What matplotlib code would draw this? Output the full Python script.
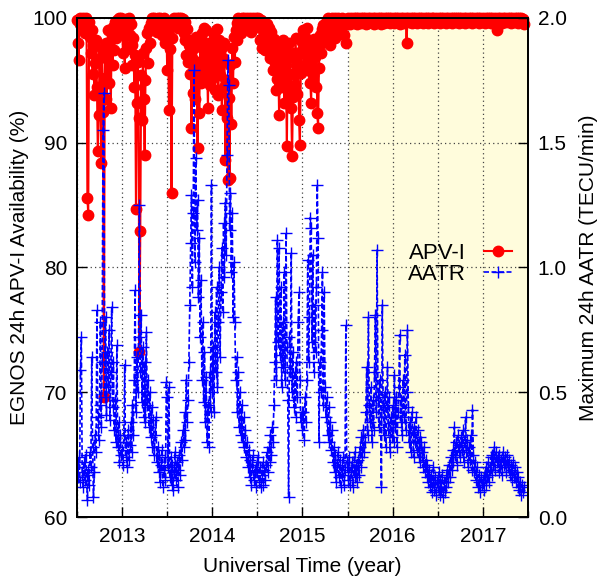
import numpy as np
import matplotlib.pyplot as plt
from matplotlib.ticker import MultipleLocator

plt.rcParams['font.family'] = ['Liberation Sans', 'DejaVu Sans']

# samples every ~3.5 days, 26 per quarter, starting 2012.5
start_year = 2012.5
per_year = 104

# Maximum 24h AATR (TECU/min), one row per quarter
aatr_2012 = [0.20, 0.16, 0.24, 0.14, 0.59, 0.72, 0.18, 0.12, 0.22, 0.15, 0.25, 0.17, 0.07, 0.19, 0.13, 0.26, 0.20, 0.64, 0.28, 0.08, 0.18, 0.33, 0.26, 0.83, 0.40, 0.31,
             0.45, 0.78, 0.36, 0.62, 1.55, 1.70, 0.48, 0.80, 0.41, 0.66, 0.52, 0.75, 0.39, 0.58, 0.84, 0.44, 0.62, 0.35, 0.47, 0.30, 0.69, 0.28, 0.38, 0.22, 0.33, 0.25]
aatr_2013 = [0.27, 0.21, 0.33, 0.61, 0.24, 0.30, 0.20, 0.35, 0.23, 0.29, 0.38, 0.26, 0.45, 0.33, 0.55, 0.91, 0.42, 0.64, 0.50, 0.72, 1.25, 0.58, 0.81, 0.46, 0.68, 0.40,
             0.62, 0.38, 0.74, 0.45, 0.55, 0.36, 0.50, 0.32, 0.44, 0.28, 0.39, 0.25, 0.33, 0.40, 0.22, 0.28, 0.18, 0.25, 0.14, 0.21, 0.27, 0.12, 0.19, 0.24, 0.15, 0.54,
             0.48, 0.20, 0.52, 0.16, 0.24, 0.13, 0.21, 0.11, 0.18, 0.26, 0.15, 0.22, 0.12, 0.19, 0.25, 0.17, 0.30, 0.23, 0.35, 0.28, 0.42, 0.31, 0.55, 0.38, 0.47, 0.62,
             0.85, 1.10, 1.29, 0.92, 1.22, 1.79, 1.02, 1.44, 1.15, 1.27, 0.88, 1.12, 0.72, 0.95, 0.55, 0.78, 0.46, 0.66, 0.38, 0.56, 0.30, 0.45, 0.28, 0.58, 0.42, 1.33]
aatr_2014 = [0.50, 0.68, 0.42, 0.82, 0.58, 0.92, 0.52, 0.78, 1.00, 0.64, 0.90, 1.08, 0.82, 1.18, 0.96, 1.26, 1.05, 1.45, 1.83, 1.73, 1.15, 1.30, 0.98, 1.22, 0.80, 1.02,
             0.78, 0.55, 0.64, 0.42, 0.58, 0.36, 0.50, 0.33, 0.45, 0.30, 0.40, 0.28, 0.35, 0.24, 0.30, 0.20, 0.27, 0.16, 0.23, 0.13, 0.21, 0.25, 0.15, 0.19, 0.12, 0.22,
             0.18, 0.24, 0.14, 0.20, 0.12, 0.17, 0.22, 0.13, 0.19, 0.15, 0.21, 0.26, 0.18, 0.28, 0.22, 0.33, 0.25, 0.36, 0.30, 0.45, 0.62, 0.88, 0.55, 1.11, 0.70, 1.08,
             0.65, 0.92, 0.52, 0.78, 0.60, 0.98, 0.55, 1.14, 0.68, 0.47, 0.08, 0.72, 0.58, 1.06, 0.50, 0.66, 0.44, 0.58, 0.40, 0.62, 0.48, 0.78, 0.90, 0.55, 0.38, 0.42]
aatr_2015 = [0.35, 0.42, 0.31, 0.48, 0.38, 0.55, 1.03, 0.62, 0.80, 1.20, 1.16, 0.70, 1.05, 0.58, 0.85, 0.66, 0.92, 1.33, 1.12, 0.30, 0.62, 0.50, 0.75, 0.98, 0.45, 0.90,
             0.52, 0.40, 0.48, 0.33, 0.44, 0.30, 0.38, 0.27, 0.35, 0.22, 0.28, 0.18, 0.25, 0.14, 0.21, 0.26, 0.16, 0.23, 0.12, 0.20, 0.17, 0.24, 0.13, 0.19, 0.77, 0.22,
             0.20, 0.15, 0.24, 0.13, 0.18, 0.22, 0.12, 0.19, 0.26, 0.16, 0.21, 0.14, 0.23, 0.17, 0.28, 0.20, 0.32, 0.24, 0.35, 0.26, 0.30, 0.42, 0.60, 0.33, 0.80, 0.45,
             0.38, 0.52, 0.30, 0.47, 0.35, 0.58, 0.81, 0.42, 1.07, 0.48, 0.36, 0.55, 0.40, 0.12, 0.85, 0.45, 0.33, 0.50, 0.28, 0.44, 0.60, 0.35, 0.48, 0.26, 0.40, 0.32]
aatr_2016 = [0.45, 0.30, 0.57, 0.36, 0.48, 0.28, 0.42, 0.52, 0.73, 0.38, 0.47, 0.33, 0.55, 0.40, 0.65, 0.35, 0.50, 0.75, 0.44, 0.30, 0.38, 0.26, 0.42, 0.34, 0.24, 0.36,
             0.30, 0.40, 0.27, 0.35, 0.24, 0.32, 0.22, 0.30, 0.26, 0.20, 0.28, 0.18, 0.23, 0.16, 0.21, 0.14, 0.19, 0.12, 0.17, 0.10, 0.15, 0.20, 0.11, 0.16, 0.09, 0.14,
             0.12, 0.18, 0.09, 0.15, 0.11, 0.17, 0.08, 0.14, 0.10, 0.16, 0.12, 0.19, 0.14, 0.21, 0.16, 0.24, 0.19, 0.27, 0.22, 0.36, 0.25, 0.30, 0.21, 0.33, 0.26, 0.29,
             0.24, 0.32, 0.27, 0.35, 0.22, 0.30, 0.40, 0.26, 0.31, 0.20, 0.28, 0.23, 0.33, 0.19, 0.43, 0.25, 0.18, 0.22, 0.15, 0.20, 0.12, 0.17, 0.14, 0.10, 0.16, 0.13]
aatr_2017 = [0.15, 0.11, 0.18, 0.13, 0.20, 0.16, 0.22, 0.14, 0.19, 0.24, 0.17, 0.25, 0.21, 0.28, 0.19, 0.26, 0.22, 0.24, 0.18, 0.25, 0.20, 0.23, 0.17, 0.26, 0.21, 0.24,
             0.22, 0.18, 0.25, 0.20, 0.23, 0.17, 0.21, 0.15, 0.19, 0.22, 0.16, 0.20, 0.14, 0.18, 0.12, 0.16, 0.11, 0.14, 0.09, 0.13, 0.10, 0.12]

# EGNOS 24h APV-I availability (%), same sampling
apv_2012 = [99.8, 98.0, 96.6, 99.5, 100, 99.7, 99.2, 100, 99.6, 98.8, 100, 99.4, 85.6, 84.2, 99.7, 98.5, 97.2, 99.0, 95.5, 97.8, 93.8, 96.4, 98.2, 94.5, 89.3, 92.2,
            96.8, 94.0, 88.4, 97.5, 92.5, 69.6, 95.2, 98.0, 93.5, 96.8, 99.0, 94.8, 97.6, 92.8, 98.5, 96.2, 99.3, 97.4, 99.7, 98.4, 99.8, 99.2, 100, 98.8, 99.6, 100]
apv_2013 = [99.4, 97.2, 99.7, 96.0, 98.8, 99.9, 97.5, 99.3, 100, 98.6, 99.5, 97.8, 96.2, 98.4, 94.5, 97.0, 84.7, 93.2, 96.5, 92.0, 73.2, 82.9, 95.4, 91.8, 97.2, 93.5,
            89.0, 95.0, 97.6, 98.8, 96.4, 99.2, 98.0, 99.6, 100, 99.1, 99.8, 100, 99.5, 99.9, 98.9, 100, 99.7, 99.3, 100, 99.8, 98.6, 99.9, 100, 99.4, 98.0, 99.7,
            95.8, 99.0, 92.6, 97.5, 99.3, 86.0, 98.4, 99.8, 100, 99.5, 99.9, 100, 99.2, 99.8, 100, 99.6, 100, 99.4, 99.9, 98.8, 99.7, 98.2, 97.0, 99.1, 96.5, 97.8,
            95.5, 98.2, 91.2, 96.8, 94.0, 97.6, 93.5, 98.5, 95.8, 89.6, 96.5, 92.4, 97.9, 94.8, 98.8, 96.0, 99.2, 95.2, 97.4, 99.0, 96.3, 92.8, 98.0, 94.6, 97.2, 95.0]
apv_2014 = [97.8, 95.6, 98.6, 94.2, 97.0, 99.1, 96.2, 93.8, 98.2, 95.4, 97.5, 92.6, 96.8, 94.5, 98.0, 88.6, 95.0, 92.0, 87.0, 93.6, 87.2, 96.2, 91.5, 97.6, 94.8, 98.5,
            96.5, 99.0, 98.2, 99.6, 100, 99.3, 99.8, 98.8, 100, 99.5, 99.9, 100, 99.2, 99.7, 100, 99.8, 99.4, 100, 99.9, 98.9, 99.7, 100, 99.5, 99.8, 100, 99.3,
            99.7, 100, 99.4, 98.2, 99.8, 97.6, 99.0, 98.5, 99.6, 97.4, 98.8, 99.5, 97.9, 99.2, 98.4, 96.8, 98.9, 97.2, 95.8, 98.3, 96.4, 94.2, 97.6, 95.1, 96.9, 92.2,
            95.8, 97.9, 94.5, 98.2, 96.0, 93.2, 97.5, 95.0, 89.7, 96.8, 94.0, 98.0, 95.5, 92.8, 88.9, 93.7, 97.2, 94.6, 98.4, 96.2, 93.9, 97.0, 91.8, 89.8, 95.6, 98.1]
apv_2015 = [97.4, 99.0, 96.2, 98.5, 97.0, 99.2, 95.8, 98.0, 96.6, 94.8, 93.2, 97.6, 95.4, 98.3, 96.9, 94.5, 97.8, 92.4, 91.2, 96.0, 98.6, 97.2, 99.1, 98.0, 99.4, 98.7,
            99.5, 98.6, 99.8, 100, 98.9, 99.6, 97.8, 99.9, 100, 99.3, 99.7, 98.4, 100, 99.8, 99.5, 100, 99.2, 99.9, 98.8, 99.7, 100, 99.4, 98.6, 99.8, 98.0, 99.5,
            99.6, 100, 99.8, 99.5, 100, 99.7, 99.9, 100, 99.6, 99.8, 100, 99.5, 100, 99.9, 99.7, 100, 99.6, 99.8, 100, 99.7, 100, 99.5, 99.9, 100, 99.6, 99.8,
            100, 99.7, 99.9, 100, 99.5, 99.8, 100, 99.6, 99.9, 100, 99.7, 100, 99.8, 99.5, 100, 99.9, 99.6, 100, 99.8, 100, 99.7, 99.9, 100, 99.6, 100, 99.8]
apv_2016 = [99.8, 100, 99.6, 99.9, 100, 99.7, 100, 99.8, 99.5, 100, 99.9, 99.7, 100, 99.6, 99.8, 100, 98.0, 99.9, 100, 99.7, 99.8, 100, 99.6, 100, 99.9, 99.7,
            100, 99.8, 99.6, 100, 99.9, 99.7, 100, 99.8, 100, 99.6, 99.9, 100, 99.7, 99.8, 100, 99.6, 100, 99.9, 99.8, 100, 99.7, 100, 99.6, 99.9, 100, 99.8,
            99.7, 100, 99.9, 99.6, 100, 99.8, 100, 99.7, 99.9, 100, 99.6, 99.8, 100, 99.9, 99.7, 100, 99.6, 100, 99.8, 99.9, 100, 99.7, 100, 99.8, 99.6, 100,
            99.9, 100, 99.7, 99.8, 100, 99.6, 99.9, 100, 99.8, 99.7, 100, 99.9, 100, 99.6, 99.8, 100, 99.7, 99.9, 100, 99.8, 100, 99.6, 99.9, 100, 99.7, 99.8]
apv_2017 = [100, 99.8, 99.6, 100, 99.9, 99.7, 100, 99.8, 100, 99.6, 99.9, 100, 99.7, 99.8, 100, 99.6, 99.0, 100, 99.8, 99.7, 100, 99.9, 99.6, 100, 99.8, 99.9,
            100, 99.7, 99.9, 100, 99.8, 100, 99.6, 99.9, 100, 99.8, 99.7, 100, 99.9, 100, 99.8, 99.6, 100, 99.9, 100, 99.7, 99.9, 99.5]

aatr = np.array(aatr_2012 + aatr_2013 + aatr_2014 + aatr_2015 + aatr_2016 + aatr_2017)
apv = np.array(apv_2012 + apv_2013 + apv_2014 + apv_2015 + apv_2016 + apv_2017)
t_aatr = start_year + np.arange(len(aatr)) / per_year
t_apv = start_year + np.arange(len(apv)) / per_year

# shaded period at the end of the series
shade_start, shade_end = 2015.52, 2017.5

fig = plt.figure(figsize=(6.09, 5.83), dpi=100)
ax = fig.add_axes([0.1264, 0.1132, 0.7406, 0.856])
ax.axvspan(shade_start, shade_end, color='#fffcdc', zorder=0, lw=0)
ax.plot(t_apv, apv, '-o', color='red', lw=1.5, ms=7.5, clip_on=False, zorder=2, label='APV-I')
ax.set_xlim(2012.5, 2017.5)
ax.set_ylim(60, 100)
ax.set_yticks([60, 70, 80, 90, 100])
ax.set_xticks([2013, 2014, 2015, 2016, 2017])
ax.xaxis.set_minor_locator(MultipleLocator(0.5))
ax.grid(True, which='both', axis='x', ls=(0, (1, 2.5)), color='#444444', lw=0.9)
ax.grid(True, which='major', axis='y', ls=(0, (1, 2.5)), color='#444444', lw=0.9)

ax2 = ax.twinx()
ax2.plot(t_aatr, aatr, '+', ls=(0, (3, 1.5)), color='blue', lw=1.2, ms=8, mew=1, label='AATR')
ax2.set_ylim(0, 2)
ax2.set_yticks([0, 0.5, 1.0, 1.5, 2.0])
ax2.set_yticklabels(['0.0', '0.5', '1.0', '1.5', '2.0'])

for a in (ax, ax2):
    a.tick_params(direction='in', labelsize=15, width=1, length=7, pad=7)
    a.tick_params(which='minor', direction='in', width=1, length=4)
    for s in a.spines.values():
        s.set_linewidth(1.3)

ax.set_xlabel('Universal Time (year)', fontsize=15, labelpad=8)
ax.set_ylabel('EGNOS 24h APV-I Availability (%)', fontsize=15, labelpad=2)
ax2.set_ylabel('Maximum 24h AATR (TECU/min)', fontsize=15, labelpad=9)

h1, l1 = ax.get_legend_handles_labels()
h2, l2 = ax2.get_legend_handles_labels()
ax2.legend(h1 + h2, l1 + l2, loc='upper right', bbox_to_anchor=(1.0, 0.58), frameon=False,
           markerfirst=False, fontsize=16, handlelength=1.3, labelspacing=0.0, borderpad=0.2)

fig.savefig('out.png', dpi=100)
